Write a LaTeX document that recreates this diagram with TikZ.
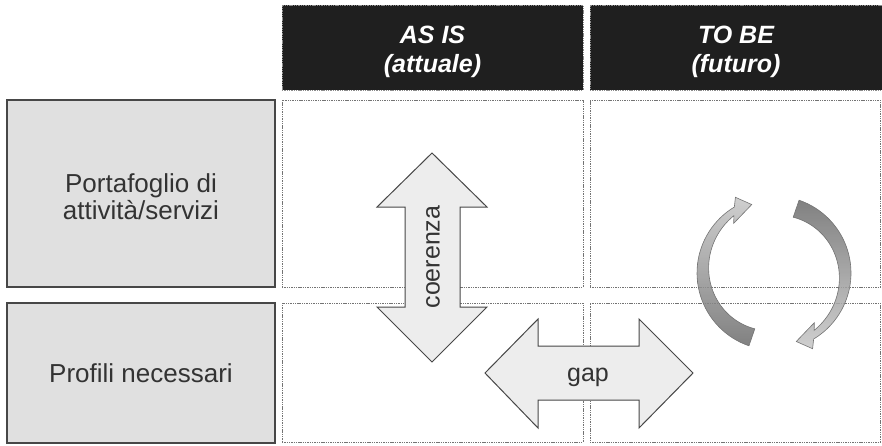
\documentclass[tikz,border=0pt]{standalone}
\usepackage{fontspec}
\setmainfont{Liberation Sans}
\begin{document}
\begin{tikzpicture}[x=1pt,y=-1pt,
  cell/.style={draw=black!55, dash pattern=on 1.4pt off 0.9pt, line width=0.9pt, minimum width=#1, minimum height=187pt, inner sep=0pt},
  hdr/.style={fill=black!88, draw=black!45, dash pattern=on 1.4pt off 0.9pt, line width=0.6pt,
     minimum height=85pt, inner sep=0pt},
  hdrtxt/.style={text=white, font=\fontsize{25}{29}\selectfont\bfseries\itshape, inner sep=0pt, anchor=base},
  rowbox/.style={fill=black!12, draw=black!72, line width=1.2pt, minimum width=268pt, inner sep=0pt},
  rowtxt/.style={text=black!80, font=\fontsize{26}{27}\selectfont, inner sep=0pt, anchor=base},
  blockarrow/.style={fill=black!7, draw=black!72, line width=1pt, line join=miter},
  lbl/.style={text=black!80, font=\fontsize{25}{27}\selectfont, inner sep=0pt},
  cyc/.style={draw=black!55, line width=0.6pt, fill opacity=0.85}
]
\useasboundingbox (0,0) rectangle (882,445);
% headers
\node[hdr, minimum width=301pt] (h1) at (432.5,47.5) {};
\node[hdr, minimum width=292pt] (h2) at (736,47.5) {};
\node[hdrtxt] (h1a) at (h1.center |- 0,43) {AS IS};
\node[hdrtxt] (h1b) at (h1.center |- 0,72) {(attuale)};
\node[hdrtxt] (h2a) at (h2.center |- 0,43) {TO BE};
\node[hdrtxt] (h2b) at (h2.center |- 0,72) {(futuro)};
% row boxes
\node[rowbox, minimum height=187pt] (r1) at (141,193.5) {};
\node[rowbox, minimum height=140pt] (r2) at (141,373) {};
\node[rowtxt] (r1a) at (r1.center |- 0,192) {Portafoglio di};
\node[rowtxt] (r1b) at (r1.center |- 0,219) {attività/servizi};
\node[rowtxt] (r2a) at (r2.center |- 0,382) {Profili necessari};
% dashed cells
\node[cell=301pt] (c11) at (432.5,193.5) {};
\node[cell=290pt] (c12) at (735,193.5) {};
\node[cell=301pt, minimum height=139pt] (c21) at (432.5,372.5) {};
\node[cell=290pt, minimum height=139pt] (c22) at (735,372.5) {};
% coerenza arrow
\draw[blockarrow] (432,153) -- (487,207) -- (460,207) -- (460,307) -- (487,307) -- (432,362)
  -- (377,307) -- (405,307) -- (405,207) -- (377,207) -- cycle;
\node[lbl, rotate=90] (coer) at (433,257) {coerenza};
% gap arrow
\draw[blockarrow] (485,373) -- (538,319) -- (538,346) -- (639,346) -- (639,319) -- (693,373)
  -- (639,428) -- (639,400) -- (538,400) -- (538,428) -- cycle;
\node[lbl] (gap) at (588,377) {gap};
% cycle arrows
\draw[cyc, top color=black!22, bottom color=black!58]
  plot[domain=251:121, samples=40] ({774+77*cos(\x)}, {273-77*sin(\x)})
  -- ({774+85*cos(117)}, {273-85*sin(117)})
  -- ({774+72*cos(108)}, {273-72*sin(108)})
  -- ({774+64*cos(129)}, {273-64*sin(129)})
  -- plot[domain=125:251, samples=40] ({774+(70-11*(\x-125)/126)*cos(\x)}, {273-(70-11*(\x-125)/126)*sin(\x)})
  -- cycle;
\draw[cyc, top color=black!58, bottom color=black!22]
  plot[domain=71:-59, samples=40] ({774+77*cos(\x)}, {273-77*sin(\x)})
  -- ({774+85*cos(-63)}, {273-85*sin(-63)})
  -- ({774+72*cos(-72)}, {273-72*sin(-72)})
  -- ({774+64*cos(-51)}, {273-64*sin(-51)})
  -- plot[domain=-55:71, samples=40] ({774+(70-11*(\x+55)/126)*cos(\x)}, {273-(70-11*(\x+55)/126)*sin(\x)})
  -- cycle;
\end{tikzpicture}
\end{document}
